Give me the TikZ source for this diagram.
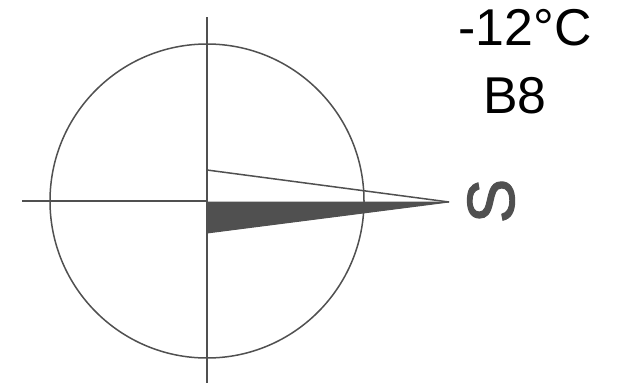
\documentclass[tikz,border=0pt]{standalone}
\usepackage{fontspec}
\setmainfont{Liberation Sans}
\newfontfamily\heavyfont[FakeBold=1.6]{Liberation Sans}
\usetikzlibrary{positioning,calc}

\definecolor{pengray}{HTML}{505050}

\begin{document}
\begin{tikzpicture}[
    x=1bp, y=-1bp,
    axis/.style={draw=pengray, line width=1.5bp},
    vane/.style={fill=pengray, draw=pengray, line width=1bp, line join=miter},
    label/.style={inner sep=0pt, anchor=base, font=\fontsize{52}{52}\selectfont},
    heading/.style={inner sep=0pt, anchor=base, text=pengray, rotate=90,
        font=\heavyfont\fontsize{67}{67}\selectfont}
]

\useasboundingbox (0,0) rectangle (619,383);

% dial
\coordinate (center) at (207,201);
\coordinate (north) at (207,17);
\coordinate (south) at (207,383);
\coordinate (west) at (22,201);
\draw[axis] (center) circle[radius=157];
\draw[axis] (north) -- (south);
\draw[axis] (west) -- (center);

% wind vane
\coordinate (tip) at (449,202);
\coordinate (tail) at (207,233);
\coordinate (upper) at (207,170);
\fill[vane] (center |- tip) -- (tip) -- (tail) -- cycle;
\draw[axis] (upper) -- (tip);

% labels
\node[heading] (dir) at (514,201) {S};
\node[label] (temp) at (525,45) {-12°C};
\node[label] (force) at (515,113) {B8};

\end{tikzpicture}
\end{document}
